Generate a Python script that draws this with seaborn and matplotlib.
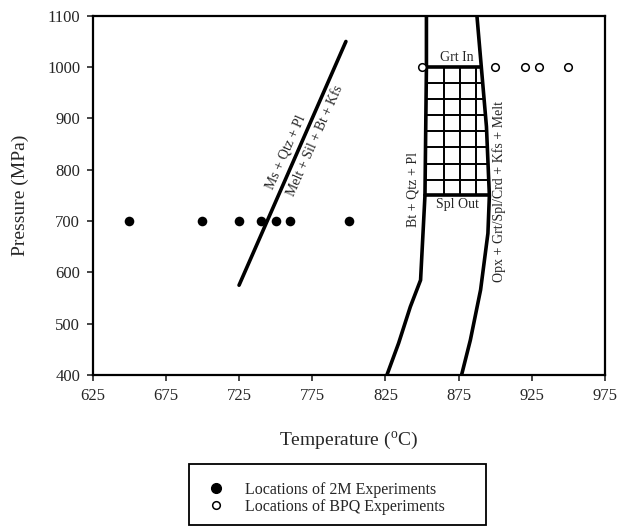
import matplotlib
matplotlib.use('Agg')
import matplotlib.pyplot as plt
import seaborn as sns
import numpy as np
import pandas as pd
from matplotlib.patches import Rectangle

# experiment locations (T in oC, P in MPa)
exp_2m_T = [650, 700, 725, 740, 750, 760, 800]
exp_2m_P = [700, 700, 700, 700, 700, 700, 700]
exp_bpq_T = [850, 900, 920, 930, 950]
exp_bpq_P = [1000, 1000, 1000, 1000, 1000]

# Ms + Qtz + Pl = Melt + Sil + Bt + Kfs
ms_T = [725, 798]
ms_P = [575, 1050]

# Bt + Qtz + Pl boundary
bt_T = [853, 853, 852, 849, 842, 834, 826]
bt_P = [1100, 1000, 750, 585, 533, 462, 400]

# Opx + Grt/Spl/Crd + Kfs + Melt boundary
opx_T = [887.5, 890.5, 894, 896, 895, 890, 883, 877]
opx_P = [1100, 1000, 884, 750, 676, 566, 468, 400]

# Grt In / Spl Out and the grid between them
grt_in_P = 1000
spl_out_P = 750
grid_T = [865, 876, 887]
grid_P = [969, 938, 906, 875, 844, 812, 781]

sns.set_style('ticks')
plt.rcParams['font.family'] = ['Liberation Serif', 'DejaVu Serif']
plt.rcParams['mathtext.fontset'] = 'custom'
plt.rcParams['mathtext.rm'] = 'Liberation Serif'

fig = plt.figure(figsize=(6.26, 5.27), dpi=100)
ax = fig.add_axes([0.148, 0.2884, 0.8185, 0.6816])


def curva(T, P, lw):
    df = pd.DataFrame({'T': T, 'P': P})
    sns.lineplot(data=df, x='T', y='P', sort=False, estimator=None,
                 color='black', linewidth=lw, ax=ax)


# interpolated boundary positions for horizontal lines
def limites(P):
    esq = np.interp(P, bt_P[::-1], bt_T[::-1])
    dir_ = np.interp(P, opx_P[::-1], opx_T[::-1])
    return esq, dir_


for p in grid_P:
    e, d = limites(p)
    curva([e, d], [p, p], 1.4)
for t in grid_T:
    curva([t, t], [spl_out_P, grt_in_P], 1.4)
for p in [grt_in_P, spl_out_P]:
    e, d = limites(p)
    curva([e, d], [p, p], 2.6)

curva(ms_T, ms_P, 2.6)
curva(bt_T, bt_P, 2.6)
curva(opx_T, opx_P, 2.6)

sns.scatterplot(x=exp_2m_T, y=exp_2m_P, s=48, color='black', edgecolor='black',
                linewidth=0, ax=ax, zorder=5)
sns.scatterplot(x=exp_bpq_T, y=exp_bpq_P, s=30, facecolor='white',
                edgecolor='black', linewidth=1.1, ax=ax, zorder=5)

# texts
ax.text(874, 1018, 'Grt In', ha='center', va='center', fontsize=10)
ax.text(874, 733, 'Spl Out', ha='center', va='center', fontsize=10)
ax.text(844, 762, 'Bt + Qtz + Pl', ha='center', va='center', fontsize=10, rotation=90)
ax.text(902.5, 757, 'Opx + Grt/Spl/Crd + Kfs + Melt', ha='center', va='center',
        fontsize=10, rotation=90)
ax.text(757, 834, 'Ms + Qtz + Pl', ha='center', va='center', fontsize=10,
        rotation=66, rotation_mode='anchor')
ax.text(777, 856, 'Melt + Sil + Bt + Kfs', ha='center', va='center', fontsize=10,
        rotation=66, rotation_mode='anchor')

ax.set_xlim(625, 975)
ax.set_ylim(400, 1100)
ax.set_xticks(np.arange(625, 976, 50))
ax.set_yticks(np.arange(400, 1101, 100))
ax.tick_params(direction='out', length=4, width=1.2, labelsize=12, pad=5)
for s in ax.spines.values():
    s.set_linewidth(1.6)
    s.set_color('black')
ax.set_xlabel('Temperature ($\\mathregular{^{o}}$C)', fontsize=14, labelpad=19)
ax.set_ylabel('Pressure (MPa)', fontsize=14, labelpad=13)

# legend box
fig.patches.append(Rectangle((189 / 626, 2 / 527), 297 / 626, 61 / 527,
                             transform=fig.transFigure, fill=False,
                             edgecolor='black', linewidth=1.3))
h1 = plt.Line2D([], [], marker='o', linestyle='', color='black', markersize=7)
h2 = plt.Line2D([], [], marker='o', linestyle='', markerfacecolor='white',
                markeredgecolor='black', markeredgewidth=1.1, markersize=5.5)
fig.legend([h1, h2], ['Locations of 2M Experiments', 'Locations of BPQ Experiments'],
           loc='upper left', bbox_to_anchor=(208 / 626, 1 - 482 / 527),
           frameon=False, fontsize=11.5, handlelength=1, handletextpad=1.3,
           labelspacing=0.05, borderpad=0, borderaxespad=0)

fig.savefig('out.png', dpi=100)
